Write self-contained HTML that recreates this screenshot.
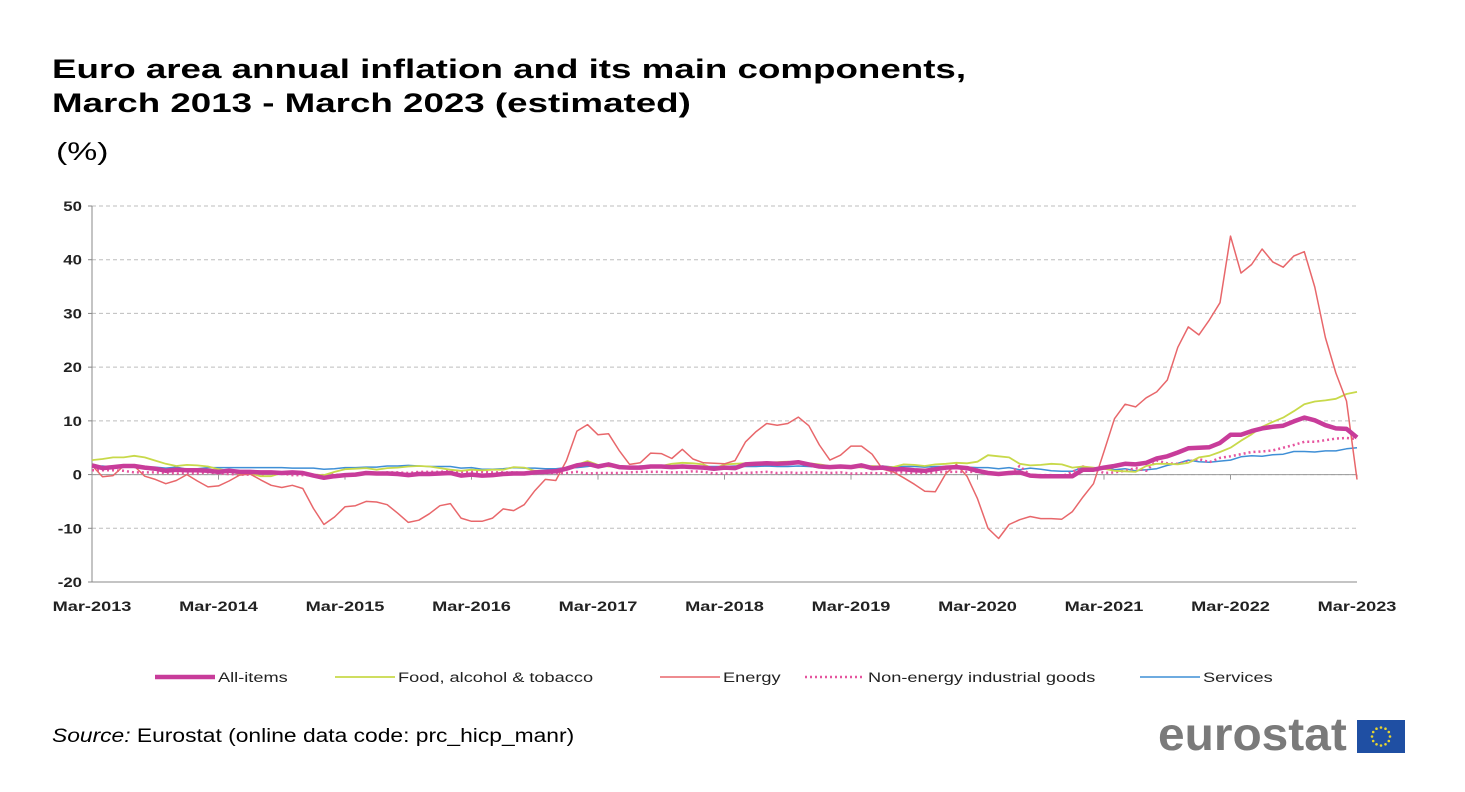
<!DOCTYPE html>
<html><head><meta charset="utf-8">
<style>
body{margin:0;background:#fff;font-family:"Liberation Sans",sans-serif;}
#wrap{position:relative;width:1465px;height:792px;overflow:hidden;}
.t{position:absolute;white-space:nowrap;color:#000;transform-origin:0 0;}
</style></head>
<body>
<div id="wrap">
<div class="t" style="left:52px;top:52px;font-size:27px;font-weight:bold;line-height:34px;transform:scaleX(1.36);">Euro area annual inflation and its main components,<br>March 2013 - March 2023 (estimated)</div>
<div class="t" style="left:56px;top:138px;font-size:25px;transform:scaleX(1.35);">(%)</div>
<svg id="chart" width="1465" height="792" style="position:absolute;left:0;top:0"></svg>
<div class="t" style="left:52px;top:726px;font-size:19px;transform:scaleX(1.2);"><i>Source:</i> Eurostat (online data code: prc_hicp_manr)</div>
<div class="t" style="left:1158px;top:707px;font-size:46px;font-weight:bold;color:#7a7a7a;transform:scaleX(1.04);">eurostat</div>
<svg style="position:absolute;left:1357px;top:720px" width="48" height="33">
<rect width="48" height="33" fill="#1f4fa3"/>
<g fill="#e8d530" id="stars"></g>
</svg>
</div>
<script>
const categories = [];
for (let i = 0; i <= 120; i++) categories.push(i);
const xTickLabels = ["Mar-2013","Mar-2014","Mar-2015","Mar-2016","Mar-2017","Mar-2018","Mar-2019","Mar-2020","Mar-2021","Mar-2022","Mar-2023"];
const yTicks = [50,40,30,20,10,0,-10,-20];
const allItems = [1.7,1.2,1.4,1.6,1.6,1.3,1.1,0.7,0.9,0.8,0.8,0.7,
0.5,0.7,0.5,0.5,0.4,0.4,0.3,0.4,0.3,-0.2,-0.6,-0.3,
-0.1,0.0,0.3,0.2,0.2,0.1,-0.1,0.1,0.1,0.2,0.3,-0.2,
0.0,-0.2,-0.1,0.1,0.2,0.2,0.4,0.5,0.6,1.1,1.7,2.0,
1.5,1.9,1.4,1.3,1.3,1.5,1.5,1.4,1.5,1.4,1.3,1.1,
1.3,1.2,1.9,2.0,2.1,2.0,2.1,2.3,1.9,1.5,1.4,1.5,
1.4,1.7,1.2,1.3,1.0,1.0,0.8,0.7,1.0,1.3,1.4,1.2,
0.7,0.3,0.1,0.3,0.4,-0.2,-0.3,-0.3,-0.3,-0.3,0.9,0.9,
1.3,1.6,2.0,1.9,2.2,3.0,3.4,4.1,4.9,5.0,5.1,5.9,
7.4,7.4,8.1,8.6,8.9,9.1,9.9,10.6,10.1,9.2,8.6,8.5,6.9];
const food = [2.7,2.9,3.2,3.2,3.5,3.2,2.6,2.0,1.6,1.8,1.7,1.5,
1.0,0.7,0.1,0.2,-0.3,-0.3,0.3,0.5,0.5,0.0,-0.1,0.5,
1.0,1.1,1.2,0.9,1.2,1.3,1.5,1.6,1.5,1.2,0.9,0.7,
0.9,0.8,0.9,0.9,1.4,1.3,0.7,0.7,0.7,1.2,1.8,2.5,
1.8,1.5,1.5,1.3,1.4,1.4,1.6,2.0,2.2,2.1,1.9,1.1,
1.9,2.0,2.1,2.2,2.2,2.3,2.4,2.1,2.1,1.9,1.6,1.6,
1.6,1.3,1.6,1.5,1.4,1.9,1.8,1.6,1.9,2.0,2.2,2.1,
2.4,3.6,3.4,3.2,2.0,1.7,1.8,2.0,1.9,1.3,1.5,1.3,
1.1,0.7,0.6,0.5,1.6,2.0,2.0,1.9,2.2,3.2,3.5,4.2,
5.0,6.3,7.5,8.9,9.8,10.6,11.8,13.1,13.6,13.8,14.1,15.0,15.4];
const energy = [1.7,-0.4,-0.2,1.6,1.6,-0.3,-0.9,-1.7,-1.1,0.0,-1.2,-2.3,
-2.1,-1.2,-0.1,0.1,-1.0,-2.0,-2.4,-2.0,-2.6,-6.3,-9.3,-7.9,
-6.0,-5.8,-5.0,-5.1,-5.6,-7.2,-8.9,-8.5,-7.3,-5.8,-5.4,-8.1,
-8.7,-8.7,-8.1,-6.4,-6.7,-5.6,-3.0,-0.9,-1.1,2.6,8.1,9.3,
7.4,7.6,4.5,1.9,2.2,4.0,3.9,3.0,4.7,2.9,2.2,2.1,
2.0,2.6,6.1,8.0,9.5,9.2,9.5,10.7,9.1,5.5,2.7,3.6,
5.3,5.3,3.8,1.0,0.5,-0.6,-1.8,-3.1,-3.2,0.2,1.9,-0.3,
-4.5,-10.0,-11.9,-9.3,-8.4,-7.8,-8.2,-8.2,-8.3,-6.9,-4.2,-1.7,
4.3,10.4,13.1,12.6,14.3,15.4,17.6,23.7,27.5,26.0,28.8,32.0,
44.4,37.5,39.1,42.0,39.6,38.6,40.7,41.5,34.9,25.5,18.9,13.7,-0.9];
const neig = [0.8,0.8,0.8,0.7,0.4,0.4,0.4,0.3,0.2,0.3,0.2,0.4,
0.2,0.1,0.0,0.0,0.0,0.3,0.2,-0.1,-0.1,-0.1,-0.1,0.0,
-0.1,-0.1,0.2,0.3,0.4,0.4,0.3,0.5,0.5,0.5,0.7,0.5,
0.5,0.5,0.4,0.4,0.4,0.3,0.3,0.3,0.3,0.3,0.5,0.2,
0.3,0.3,0.3,0.4,0.5,0.5,0.5,0.4,0.4,0.6,0.5,0.2,
0.2,0.3,0.3,0.4,0.5,0.3,0.4,0.3,0.4,0.4,0.3,0.4,
0.2,0.2,0.3,0.2,0.4,0.4,0.3,0.3,0.4,0.5,0.5,0.5,
0.5,0.3,0.2,0.2,1.6,-0.1,-0.1,-0.1,-0.3,0.5,1.5,1.0,
0.3,0.4,0.7,1.2,0.7,2.6,2.1,2.0,2.4,2.9,2.3,3.1,
3.4,3.8,4.2,4.3,4.5,5.0,5.5,6.1,6.1,6.4,6.7,6.8,6.6];
const services = [1.5,1.6,1.4,1.4,1.4,1.4,1.4,1.2,1.4,1.0,1.1,1.3,
1.3,1.3,1.3,1.3,1.3,1.3,1.3,1.2,1.2,1.2,1.0,1.1,
1.3,1.3,1.4,1.4,1.6,1.6,1.7,1.6,1.5,1.5,1.5,1.2,
1.3,1.0,1.0,1.1,1.3,1.2,1.2,1.1,1.1,1.3,1.3,1.5,
1.8,1.6,1.5,1.3,1.6,1.6,1.6,1.3,1.5,1.3,1.5,1.5,
1.5,1.6,1.5,1.5,1.6,1.5,1.5,1.6,1.5,1.4,1.3,1.4,
1.3,1.9,1.4,1.6,1.4,1.5,1.5,1.4,1.5,1.5,1.5,1.4,
1.3,1.3,1.1,1.3,0.9,1.2,1.0,0.7,0.6,0.6,1.4,0.9,
1.3,0.9,1.1,0.7,0.9,1.1,1.7,2.1,2.7,2.4,2.3,2.5,
2.7,3.3,3.5,3.4,3.7,3.8,4.3,4.3,4.2,4.4,4.4,4.8,5.0];

const NS='http://www.w3.org/2000/svg';
const svg=document.getElementById('chart');
const x0=92,x1=1357,yTop=206,yBot=582,yMax=50,yMin=-20;
const xS=i=>x0+(x1-x0)*i/120;
const yS=v=>yTop+(yMax-v)*(yBot-yTop)/(yMax-yMin);
function mk(tag,attrs){const e=document.createElementNS(NS,tag);for(const k in attrs)e.setAttribute(k,attrs[k]);svg.appendChild(e);return e;}
function txt(x,y,s,anchor,size,bold,sx){
  const t=mk('text',{x:0,y:0,'text-anchor':anchor,'font-size':size,'font-weight':bold?'bold':'normal','font-family':'Liberation Sans, sans-serif',fill:'#222',transform:'translate('+x+','+y+') scale('+sx+',1)'});
  t.textContent=s;return t;}
yTicks.forEach(v=>{
  if(v!==-20){const g=mk('line',{x1:x0,x2:x1,y1:yS(v),y2:yS(v),stroke:'#bdbdbd','stroke-width':1,'stroke-dasharray':'4,3'});
  
  }
  const t=txt(x0-10,yS(v)+5,String(v),'end',14,true,1.2);
  
  
  mk('line',{x1:x0-4,x2:x0,y1:yS(v),y2:yS(v),stroke:'#888'});
});
const ax=mk('line',{x1:x0,x2:x0,y1:yTop,y2:yBot,stroke:'#888','stroke-width':1});


const xa=mk('line',{x1:x0,x2:x1,y1:yS(0),y2:yS(0),stroke:'#999','stroke-width':1});


const xb=mk('line',{x1:x0,x2:x1,y1:yBot,y2:yBot,stroke:'#888','stroke-width':1});


xTickLabels.forEach((l,k)=>{
  const xx=xS(k*12);
  mk('line',{x1:xx,x2:xx,y1:yS(0),y2:yS(0)+5,stroke:'#999'});
  const t=txt(xx,611,l,'middle',14,true,1.3);
  
  
});
const series=[
 {d:services,c:'#3f8fd6',w:1.5,dash:null,n:'services-line'},
 {d:neig,c:'#e6559f',w:2.5,dash:'2,3',n:'non-energy-industrial-goods-line'},
 {d:food,c:'#c8d94a',w:1.8,dash:null,n:'food-alcohol-tobacco-line'},
 {d:energy,c:'#e8676b',w:1.5,dash:null,n:'energy-line'},
 {d:allItems,c:'#c83c9a',w:4.5,dash:null,n:'all-items-line'}
];
series.forEach(s=>{
  const pts=s.d.map((v,i)=>xS(categories[i]).toFixed(1)+','+yS(v).toFixed(1)).join(' ');
  const p=mk('polyline',{points:pts,fill:'none',stroke:s.c,'stroke-width':s.w,'stroke-linejoin':'round'});
  if(s.dash)p.setAttribute('stroke-dasharray',s.dash);
  
  
});
const legend=[
 {x:155,c:'#c83c9a',w:4.5,dash:null,l:'All-items'},
 {x:335,c:'#c8d94a',w:1.8,dash:null,l:'Food, alcohol & tobacco'},
 {x:660,c:'#e8676b',w:1.5,dash:null,l:'Energy'},
 {x:805,c:'#e6559f',w:2.5,dash:'2,3',l:'Non-energy industrial goods'},
 {x:1140,c:'#3f8fd6',w:1.5,dash:null,l:'Services'}
];
legend.forEach(e=>{
  const ln=mk('line',{x1:e.x,x2:e.x+60,y1:677,y2:677,stroke:e.c,'stroke-width':e.w});
  if(e.dash)ln.setAttribute('stroke-dasharray',e.dash);
  
  
  const t=txt(e.x+63,682,e.l,'start',14,false,1.3);
  
  
});
const st=document.getElementById('stars');
for(let k=0;k<12;k++){const a=k*Math.PI/6;const c=document.createElementNS(NS,'circle');
c.setAttribute('cx',24+9*Math.cos(a));c.setAttribute('cy',16.5+9*Math.sin(a));c.setAttribute('r',1.3);st.appendChild(c);}
</script>
</body></html>
